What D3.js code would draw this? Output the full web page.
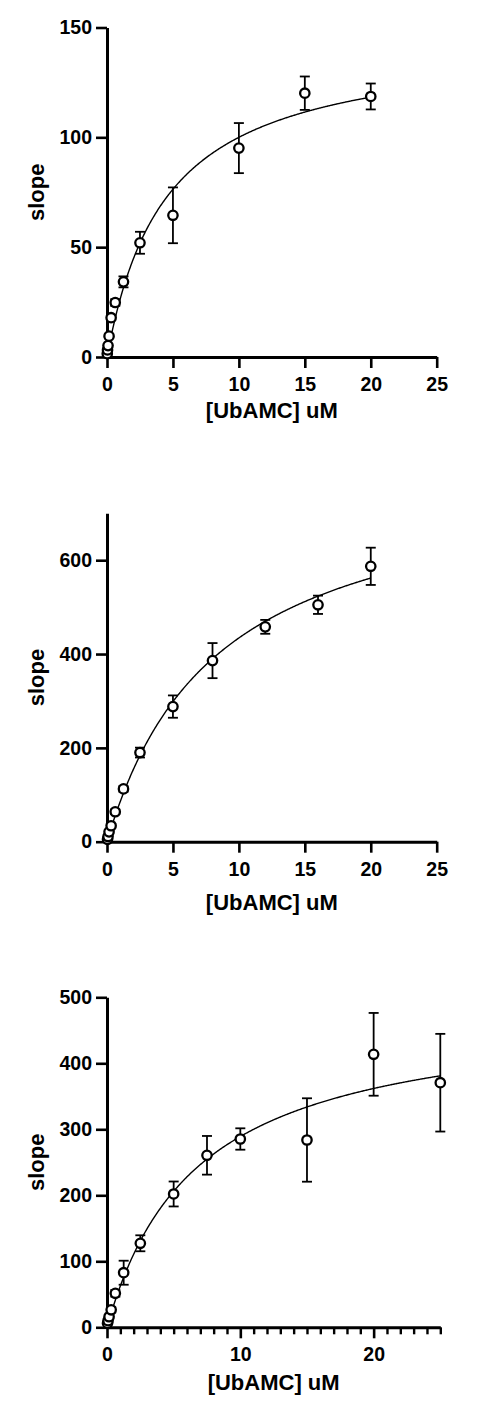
<!DOCTYPE html>
<html>
<head>
<meta charset="utf-8">
<script src="https://cdn.jsdelivr.net/npm/d3@7"></script>
<style>
  body { margin: 0; background: #fff; }
  svg text { font-family: "Liberation Sans", Arial, sans-serif; font-weight: bold; fill: #000; }
</style>
</head>
<body>
<div id="chart"></div>
<script>
// panel 1
var conc1  = [0.0195, 0.039, 0.078, 0.156, 0.3125, 0.625, 1.25, 2.5, 5, 10, 15, 20];
var slope1 = [1.5, 3.2, 5.2, 9.5, 17.9, 24.8, 34.2, 52.0, 64.5, 95.1, 120.1, 118.6];
var err1   = [0.3, 0.5, 0.8, 1.0, 1.2, 1.5, 2.5, 5.0, 12.7, 11.4, 7.6, 5.9];
var vmax1 = 144.8, km1 = 4.48;
var yTicks1 = [0, 50, 100, 150];
var xTicks1 = [0, 5, 10, 15, 20, 25];

// panel 2
var conc2  = [0.039, 0.078, 0.156, 0.3125, 0.625, 1.25, 2.5, 5, 8, 12, 16, 20];
var slope2 = [5, 11, 21, 34, 63.8, 112.5, 190, 288, 386, 458, 505, 587];
var err2   = [1, 2, 3, 4, 5, 6, 10.5, 23.8, 37.4, 14.8, 19.5, 39.7];
var vmax2 = 796, km2 = 8.33;
var yTicks2 = [0, 200, 400, 600];
var xTicks2 = [0, 5, 10, 15, 20, 25];

// panel 3
var conc3  = [0.039, 0.078, 0.156, 0.3125, 0.625, 1.25, 2.5, 5, 7.5, 10, 15, 20, 25];
var slope3 = [6, 10, 16, 26.5, 51.5, 82.7, 127.3, 202, 260.6, 285.3, 283.8, 413.6, 370.6];
var err3   = [1, 2, 3, 4, 5, 18.2, 12.1, 18.9, 29.3, 16.2, 63.2, 62.7, 74];
var vmax3 = 483.6, km3 = 6.73;
var yTicks3 = [0, 100, 200, 300, 400, 500];
var xTicks3 = [0, 10, 20];
var xMinor3 = [1,2,3,4,5,6,7,8,9,11,12,13,14,15,16,17,18,19,21,22,23,24,25];

var w = 478, h = 1420;

var panels = [
  { x: conc1, y: slope1, e: err1, vmax: vmax1, km: km1, yMax: 150, xMax: 25, yTicks: yTicks1, xTicks: xTicks1, minor: [], fitEnd: 20,
    top: 27.5, bottom: 357, left: 107, right: 436.7, titleY: 418 },
  { x: conc2, y: slope2, e: err2, vmax: vmax2, km: km2, yMax: 700, xMax: 25, yTicks: yTicks2, xTicks: xTicks2, minor: [], fitEnd: 20,
    top: 513.3, bottom: 841.7, left: 107, right: 436.7, titleY: 910 },
  { x: conc3, y: slope3, e: err3, vmax: vmax3, km: km3, yMax: 500, xMax: 25, yTicks: yTicks3, xTicks: xTicks3, minor: xMinor3, fitEnd: 25,
    top: 997.3, bottom: 1327.3, left: 107, right: 440.3, titleY: 1390 }
];

var svg = d3.select("#chart")
  .append("svg")
  .attr("width", w)
  .attr("height", h);

panels.forEach(function(p) {
  var x = d3.scaleLinear().domain([0, p.xMax]).range([p.left, p.right]);
  var y = d3.scaleLinear().domain([0, p.yMax]).range([p.bottom, p.top]);
  var g = svg.append("g");

  // axes
  var yAxis = g.append("g")
    .attr("transform", "translate(" + p.left + ",0)")
    .call(d3.axisLeft(y).tickValues(p.yTicks).tickSize(11).tickSizeOuter(0).tickPadding(4));
  var xAxis = g.append("g")
    .attr("transform", "translate(0," + p.bottom + ")")
    .call(d3.axisBottom(x).tickValues(p.xTicks).tickSize(11).tickSizeOuter(0).tickPadding(9));
  if (p.minor.length) {
    g.append("g")
      .attr("transform", "translate(0," + p.bottom + ")")
      .call(d3.axisBottom(x).tickValues(p.minor).tickSize(7).tickSizeOuter(0).tickFormat(""))
      .call(function(a) { a.select(".domain").remove(); })
      .selectAll("line").attr("stroke", "#000").attr("stroke-width", 2.4);
  }
  [yAxis, xAxis].forEach(function(a) {
    a.select(".domain").attr("stroke", "#000").attr("stroke-width", 3);
    a.selectAll(".tick line").attr("stroke", "#000").attr("stroke-width", 2.6);
    a.selectAll(".tick text").style("font-size", "19.5px");
  });

  // fitted Michaelis-Menten curve
  var fx = d3.range(0, p.fitEnd + 0.001, p.fitEnd / 400);
  var line = d3.line()
    .x(function(d) { return x(d); })
    .y(function(d) { return y(p.vmax * d / (p.km + d)); });
  g.append("path")
    .datum(fx)
    .attr("d", line)
    .attr("fill", "none")
    .attr("stroke", "#000")
    .attr("stroke-width", 1.4);

  var pts = p.x.map(function(d, i) { return { x: d, y: p.y[i], e: p.e[i] }; });

  // error bars
  var eb = g.append("g").selectAll("g").data(pts).enter().append("g");
  eb.append("line")
    .attr("x1", function(d) { return x(d.x); })
    .attr("x2", function(d) { return x(d.x); })
    .attr("y1", function(d) { return y(d.y - d.e); })
    .attr("y2", function(d) { return y(d.y + d.e); })
    .attr("stroke", "#000").attr("stroke-width", 1.8);
  [-1, 1].forEach(function(s) {
    eb.append("line")
      .attr("x1", function(d) { return x(d.x) - 5; })
      .attr("x2", function(d) { return x(d.x) + 5; })
      .attr("y1", function(d) { return y(d.y + s * d.e); })
      .attr("y2", function(d) { return y(d.y + s * d.e); })
      .attr("stroke", "#000").attr("stroke-width", 1.8);
  });

  // points
  g.append("g").selectAll("circle").data(pts).enter()
    .append("circle")
    .attr("cx", function(d) { return x(d.x); })
    .attr("cy", function(d) { return y(d.y); })
    .attr("r", 4.7)
    .attr("fill", "#fff")
    .attr("stroke", "#000")
    .attr("stroke-width", 2.3);

  // titles
  g.append("text")
    .attr("x", (p.left + p.right) / 2)
    .attr("y", p.titleY)
    .attr("text-anchor", "middle")
    .style("font-size", "22px")
    .text("[UbAMC] uM");
  g.append("text")
    .attr("transform", "translate(44," + (p.top + p.bottom) / 2 + ") rotate(-90)")
    .attr("text-anchor", "middle")
    .style("font-size", "22px")
    .text("slope");
});
</script>
</body>
</html>
